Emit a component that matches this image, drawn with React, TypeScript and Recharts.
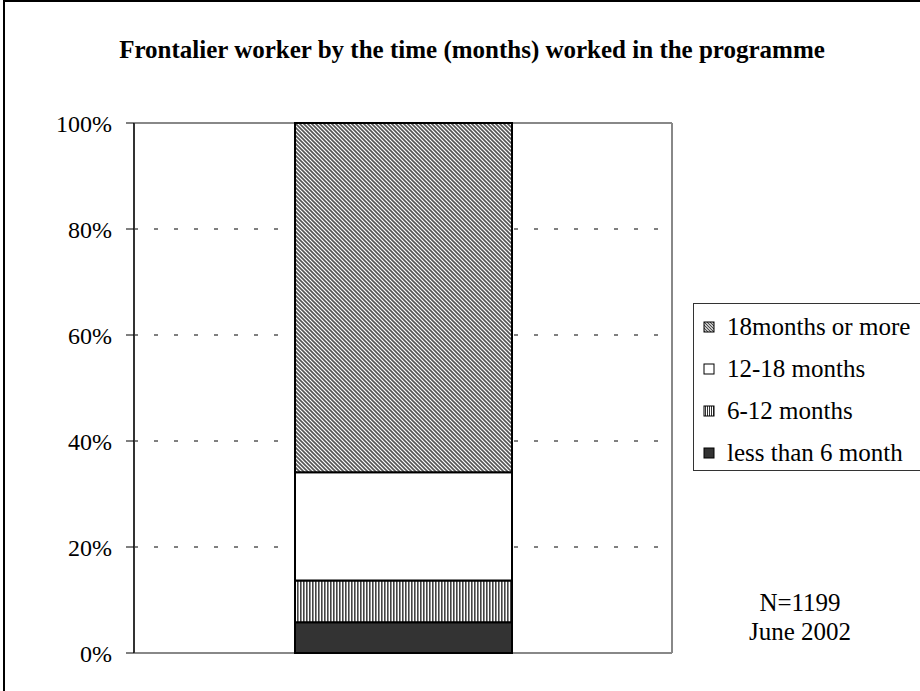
import React from "react";
import {
  Bar,
  BarChart,
  CartesianGrid,
  XAxis,
  YAxis,
} from "recharts";

const categories = ["June 2002"];
const lessThan6 = [5.8];
const months6to12 = [7.9];
const months12to18 = [20.4];
const months18plus = [65.9];
const yTicks = [0, 20, 40, 60, 80, 100];

const data = categories.map((name, i) => ({
  name,
  lt6: lessThan6[i],
  m6: months6to12[i],
  m12: months12to18[i],
  m18: months18plus[i],
}));

const FONT = "'Liberation Serif', 'Times New Roman', serif";

const legendItems = [
  { label: "18months or more", fill: "url(#diagL)" },
  { label: "12-18 months", fill: "#ffffff" },
  { label: "6-12 months", fill: "url(#vertL)" },
  { label: "less than 6 month", fill: "#333333" },
];

const LegendBox = () => (
  <div
    style={{
      position: "absolute",
      left: 693,
      top: 303,
      border: "1px solid #333",
      width: 260,
      height: 168,
      boxSizing: "border-box",
      fontFamily: FONT,
      fontSize: 25,
      background: "#fff",
    }}
  >
    <svg width={0} height={0} style={{ position: "absolute" }}>
      <defs>
        <pattern id="diagL" patternUnits="userSpaceOnUse" width={3} height={3}>
          <rect width={3} height={3} fill="#fff" />
          <path d="M-1,-1 L4,4 M-1,2 L1,4 M2,-1 L4,1" stroke="#444" strokeWidth={1.2} />
        </pattern>
        <pattern id="vertL" patternUnits="userSpaceOnUse" width={2} height={2}>
          <rect width={2} height={2} fill="#fff" />
          <rect width={1} height={2} fill="#333" />
        </pattern>
      </defs>
    </svg>
    {legendItems.map((item, i) => (
      <div
        key={item.label}
        style={{
          position: "absolute",
          left: 9,
          top: 8 + i * 42,
          height: 30,
          display: "flex",
          alignItems: "center",
          whiteSpace: "nowrap",
        }}
      >
        <svg width={12} height={12} style={{ marginRight: 12 }}>
          <rect x={1} y={1} width={10} height={10} fill={item.fill} stroke="#000" strokeWidth={1} />
        </svg>
        <span>{item.label}</span>
      </div>
    ))}
  </div>
);

// plot frame: top and bottom edges, right edge
const frameRows = ({ offset }: any) => [offset.top, offset.top + offset.height];
const frameCols = ({ offset }: any) => [offset.left + offset.width];

export default function App() {
  return (
    <div
      style={{
        position: "absolute",
        left: 0,
        top: 0,
        width: 920,
        height: 691,
        overflow: "hidden",
        background: "#fff",
      }}
    >
      <div
        style={{
          position: "absolute",
          left: 3,
          top: 0,
          width: 1000,
          height: 1000,
          border: "2px solid #000",
        }}
      />
      <div
        style={{
          position: "absolute",
          left: 117,
          top: 36,
          width: 710,
          textAlign: "center",
          fontFamily: FONT,
          fontWeight: "bold",
          fontSize: 25,
          whiteSpace: "nowrap",
        }}
      >
        Frontalier worker by the time (months) worked in the programme
      </div>
      <div
        style={{
          position: "absolute",
          left: 740,
          top: 588,
          width: 120,
          textAlign: "center",
          fontFamily: FONT,
          fontSize: 25,
          lineHeight: "29px",
        }}
      >
        <div>N=1199</div>
        <div>June 2002</div>
      </div>
      <div style={{ position: "absolute", left: 0, top: 0 }}>
        <BarChart
          width={920}
          height={691}
          data={data}
          margin={{ top: 123, right: 248, left: 0, bottom: 38 }}
        >
          <defs>
            <pattern id="diag" patternUnits="userSpaceOnUse" width={4} height={4}>
              <rect width={4} height={4} fill="#fff" />
              <path
                d="M-1,-1 L5,5 M-1,3 L1,5 M3,-1 L5,1"
                stroke="#555"
                strokeWidth={1.6}
              />
            </pattern>
            <pattern id="vert" patternUnits="userSpaceOnUse" width={3} height={3}>
              <rect width={3} height={3} fill="#fff" />
              <rect width={1.6} height={3} fill="#444" />
            </pattern>
          </defs>
          <CartesianGrid
            yAxisId="left"
            vertical={false}
            horizontalValues={[20, 40, 60, 80]}
            stroke="#000"
            strokeDasharray="4 16"
          />
          <CartesianGrid
            yAxisId="left"
            horizontalCoordinatesGenerator={frameRows}
            verticalCoordinatesGenerator={frameCols}
            stroke="#888"
            strokeWidth={2}
          />
          <XAxis dataKey="name" hide />
          <YAxis
            yAxisId="left"
            width={134}
            domain={[0, 100]}
            ticks={yTicks}
            tickFormatter={(v) => `${v}%`}
            tickSize={8}
            tickMargin={14}
            tick={{ fill: "#000", fontSize: 24, fontFamily: FONT }}
            tickLine={{ stroke: "#000" }}
            axisLine={{ stroke: "#333", strokeWidth: 2 }}
          />
          <Bar yAxisId="left" dataKey="lt6" stackId="a" barSize={217} fill="#333333" stroke="#000" strokeWidth={2} isAnimationActive={false} />
          <Bar yAxisId="left" dataKey="m6" stackId="a" barSize={217} fill="url(#vert)" stroke="#000" strokeWidth={2} isAnimationActive={false} />
          <Bar yAxisId="left" dataKey="m12" stackId="a" barSize={217} fill="#ffffff" stroke="#000" strokeWidth={2} isAnimationActive={false} />
          <Bar yAxisId="left" dataKey="m18" stackId="a" barSize={217} fill="url(#diag)" stroke="#000" strokeWidth={2} isAnimationActive={false} />
        </BarChart>
      </div>
      <LegendBox />
    </div>
  );
}
